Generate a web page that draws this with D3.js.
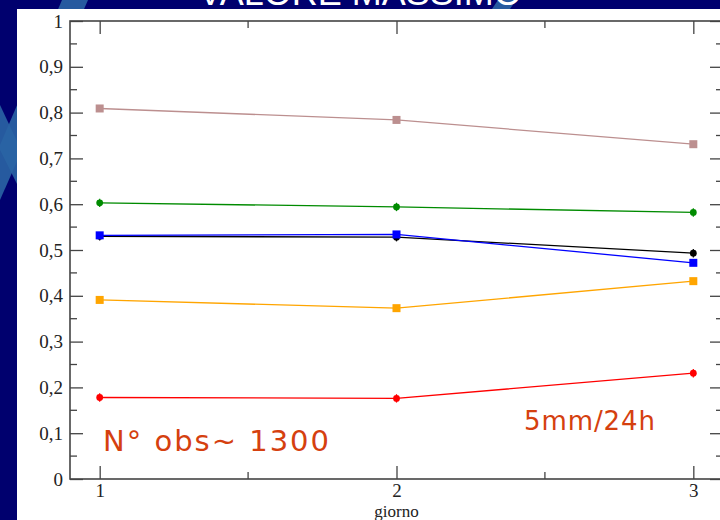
<!DOCTYPE html>
<html>
<head>
<meta charset="utf-8">
<script src="https://cdn.jsdelivr.net/npm/d3@7"></script>
<style>
  html, body { margin: 0; padding: 0; background: #00006e; }
  svg { display: block; }
</style>
</head>
<body>
<svg id="chart" width="720" height="520"></svg>
<script>
// days on x axis
var giorni = [1, 2, 3];
var xTicks = [1, 2, 3];
var yTicks = [0, 0.1, 0.2, 0.3, 0.4, 0.5, 0.6, 0.7, 0.8, 0.9, 1];

// series values
var rosa    = [0.809, 0.784, 0.731];
var verde   = [0.603, 0.594, 0.582];
var nero    = [0.530, 0.528, 0.493];
var blu     = [0.532, 0.534, 0.472];
var arancio = [0.391, 0.373, 0.432];
var rosso   = [0.178, 0.176, 0.231];

var series = [
    {name: "rosa",    vals: rosa,    color: "#bc8f8f", sym: "square"},
    {name: "verde",   vals: verde,   color: "#008b00", sym: "circle"},
    {name: "nero",    vals: nero,    color: "#000000", sym: "circle"},
    {name: "blu",     vals: blu,     color: "#0000ff", sym: "square"},
    {name: "arancio", vals: arancio, color: "#ffa500", sym: "square"},
    {name: "rosso",   vals: rosso,   color: "#ff0000", sym: "circle"}
];

var svg = d3.select("#chart");

// slide background stripes
var bg = svg.append("g");
bg.append("rect").attr("width", 720).attr("height", 520).attr("fill", "#00006e");
var stripes = [
    [[62, 0], [88, 0], [0, 200], [0, 145]],
    [[0, 105], [0, 150], [40, 230], [40, 190]],
    [[498, 0], [516, 0], [510, 9], [492, 9]]
];
bg.selectAll("polygon").data(stripes).enter().append("polygon")
  .attr("points", function(d) { return d.map(function(p) { return p.join(","); }).join(" "); })
  .attr("fill", "#2a64a4")
  .attr("opacity", 0.9);

// title (cut by the top edge, like the slide)
svg.append("text")
   .attr("x", 360).attr("y", 5)
   .attr("text-anchor", "middle")
   .style("font-family", "Liberation Sans, Arial, sans-serif")
   .style("font-size", "36px")
   .attr("fill", "#ffffff")
   .text("VALORE MASSIMO");

// white panel
svg.append("rect").attr("x", 17).attr("y", 9).attr("width", 703).attr("height", 511).attr("fill", "#ffffff");

var x = d3.scaleLinear().domain([0.9, 3.1]).range([70, 723]);
var y = d3.scaleLinear().domain([0, 1]).range([479, 21]);

function fmt(d) {
    if (d === 0) return "0";
    if (d === 1) return "1";
    return d3.format(".1f")(d).replace(".", ",");
}

var axisColor = "#444";

// left axis
var gl = svg.append("g").attr("transform", "translate(70,0)")
    .call(d3.axisLeft(y).tickValues(yTicks).tickSizeInner(-13).tickSizeOuter(0).tickPadding(7).tickFormat(fmt));
// right axis ticks
var gr = svg.append("g").attr("transform", "translate(723,0)")
    .call(d3.axisRight(y).tickValues(yTicks).tickSizeInner(-13).tickSizeOuter(0).tickFormat(""));
// bottom axis
var gb = svg.append("g").attr("transform", "translate(0,479)")
    .call(d3.axisBottom(x).tickValues(xTicks).tickSizeInner(-13).tickSizeOuter(0).tickPadding(5).tickFormat(d3.format("d")));
// top axis ticks
var gt = svg.append("g").attr("transform", "translate(0,21)")
    .call(d3.axisTop(x).tickValues(xTicks).tickSizeInner(-13).tickSizeOuter(0).tickFormat(""));

// minor ticks
var yMinor = d3.range(0.05, 1, 0.1);
var xMinor = [1.5, 2.5];
var minor = svg.append("g").attr("stroke", axisColor).attr("stroke-width", 1.3);
yMinor.forEach(function(v) {
    minor.append("line").attr("x1", x(0.9)).attr("x2", x(0.9) + 7).attr("y1", y(v)).attr("y2", y(v));
    minor.append("line").attr("x1", x(3.1)).attr("x2", x(3.1) - 7).attr("y1", y(v)).attr("y2", y(v));
});
xMinor.forEach(function(v) {
    minor.append("line").attr("x1", x(v)).attr("x2", x(v)).attr("y1", y(0)).attr("y2", y(0) - 7);
    minor.append("line").attr("x1", x(v)).attr("x2", x(v)).attr("y1", y(1)).attr("y2", y(1) + 7);
});

[gl, gr, gb, gt].forEach(function(g) {
    g.select(".domain").remove();
    g.selectAll(".tick line").attr("stroke", axisColor).attr("stroke-width", 1.3);
    g.selectAll("text")
     .style("font-family", "'Liberation Serif', 'Times New Roman', serif")
     .style("font-size", "19px")
     .attr("fill", "#222");
});

// frame
svg.append("rect")
   .attr("x", x(0.9)).attr("y", y(1))
   .attr("width", x(3.1) - x(0.9)).attr("height", y(0) - y(1))
   .attr("fill", "none").attr("stroke", axisColor).attr("stroke-width", 1.6);

// x label
svg.append("text")
   .attr("x", x(2)).attr("y", 517)
   .attr("text-anchor", "middle")
   .style("font-family", "'Liberation Serif', 'Times New Roman', serif")
   .style("font-size", "17px")
   .attr("fill", "#222")
   .text("giorno");

// lines and markers
var line = d3.line()
    .x(function(d, i) { return x(giorni[i]); })
    .y(function(d) { return y(d); });

series.forEach(function(s) {
    var g = svg.append("g");
    g.append("path")
     .attr("d", line(s.vals))
     .attr("fill", "none")
     .attr("stroke", s.color)
     .attr("stroke-width", 1.3);
    s.vals.forEach(function(v, i) {
        var cx = x(giorni[i]), cy = y(v);
        if (s.sym === "square") {
            g.append("rect").attr("x", cx - 4).attr("y", cy - 4).attr("width", 8).attr("height", 8).attr("fill", s.color);
        } else {
            g.append("circle").attr("cx", cx).attr("cy", cy).attr("r", 3.4).attr("fill", s.color);
            g.append("path")
             .attr("d", "M" + cx + "," + (cy - 4.2) + "v8.4")
             .attr("stroke", s.color).attr("stroke-width", 1.2);
        }
    });
});

// annotations
svg.append("text")
   .attr("x", 103).attr("y", 451)
   .attr("textLength", 226)
   .attr("lengthAdjust", "spacing")
   .style("font-family", "'DejaVu Sans', Verdana, sans-serif")
   .style("font-size", "29px")
   .attr("fill", "#d5400f")
   .text("N° obs~ 1300");

svg.append("text")
   .attr("x", 524).attr("y", 430)
   .attr("textLength", 131)
   .attr("lengthAdjust", "spacing")
   .style("font-family", "'DejaVu Sans', Verdana, sans-serif")
   .style("font-size", "26px")
   .attr("fill", "#d5400f")
   .text("5mm/24h");
</script>
</body>
</html>
